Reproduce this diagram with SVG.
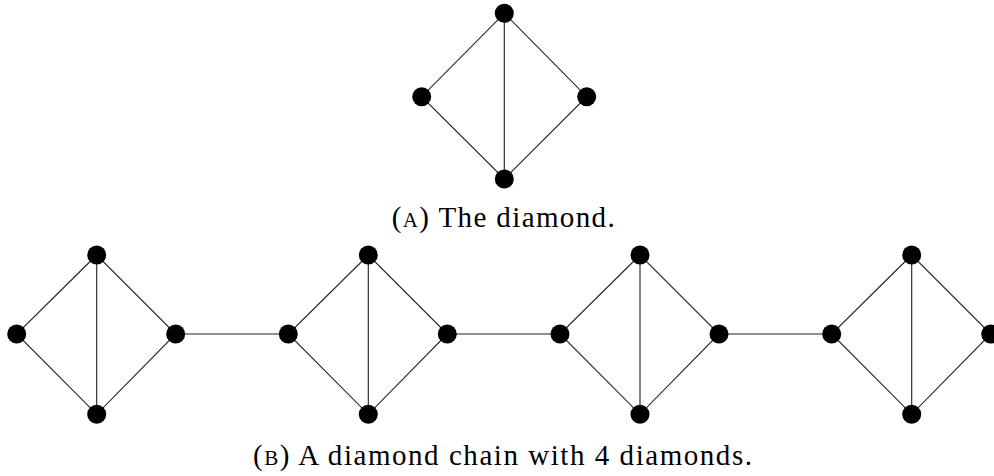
<svg xmlns="http://www.w3.org/2000/svg" width="994" height="476" viewBox="0 0 994 476">
<style>
.e{stroke:#222;stroke-width:1.1;fill:none}
.n{fill:#000}
.t{font-family:"Liberation Serif","DejaVu Serif",serif;font-size:29px;fill:#000}
.sc{font-size:21px}
</style>
<rect width="994" height="476" fill="#fff"/>
<g id="edges">
<path class="e" d="M504.3,13.3L421.7,96.7L504.3,179L586.7,96.7Z M504.3,13.3V179"/>
<path class="e" d="M96.7,255L16.7,334L96.7,414.3L175.7,334Z M96.7,255V414.3"/>
<path class="e" d="M368.3,255L288.3,334L368.3,414.3L447.3,334Z M368.3,255V414.3"/>
<path class="e" d="M640,255L560,334L640,414.3L719,334Z M640,255V414.3"/>
<path class="e" d="M911.7,255L831.7,334L911.7,414.3L990.7,334Z M911.7,255V414.3"/>
<path class="e" d="M175.7,334H288.3 M447.3,334H560 M719,334H831.7"/>
</g>
<g id="a1"><circle class="n" cx="504.3" cy="13.3" r="9.5"/></g>
<g id="a2"><circle class="n" cx="421.7" cy="96.7" r="9.5"/></g>
<g id="a3"><circle class="n" cx="586.7" cy="96.7" r="9.5"/></g>
<g id="a4"><circle class="n" cx="504.3" cy="179" r="9.5"/></g>
<g id="b1"><circle class="n" cx="96.7" cy="255" r="9.5"/><circle class="n" cx="16.7" cy="334" r="9.5"/><circle class="n" cx="175.7" cy="334" r="9.5"/><circle class="n" cx="96.7" cy="414.3" r="9.5"/></g>
<g id="b2"><circle class="n" cx="368.3" cy="255" r="9.5"/><circle class="n" cx="288.3" cy="334" r="9.5"/><circle class="n" cx="447.3" cy="334" r="9.5"/><circle class="n" cx="368.3" cy="414.3" r="9.5"/></g>
<g id="b3"><circle class="n" cx="640" cy="255" r="9.5"/><circle class="n" cx="560" cy="334" r="9.5"/><circle class="n" cx="719" cy="334" r="9.5"/><circle class="n" cx="640" cy="414.3" r="9.5"/></g>
<g id="b4"><circle class="n" cx="911.7" cy="255" r="9.5"/><circle class="n" cx="831.7" cy="334" r="9.5"/><circle class="n" cx="990.7" cy="334" r="9.5"/><circle class="n" cx="911.7" cy="414.3" r="9.5"/></g>
<g id="captionA"><text class="t" x="391.7" y="227" textLength="223" lengthAdjust="spacing">(<tspan class="sc">A</tspan>) The diamond.</text></g>
<g id="captionB"><text class="t" x="253" y="465" textLength="499" lengthAdjust="spacing">(<tspan class="sc">B</tspan>) A diamond chain with 4 diamonds.</text></g>
</svg>
